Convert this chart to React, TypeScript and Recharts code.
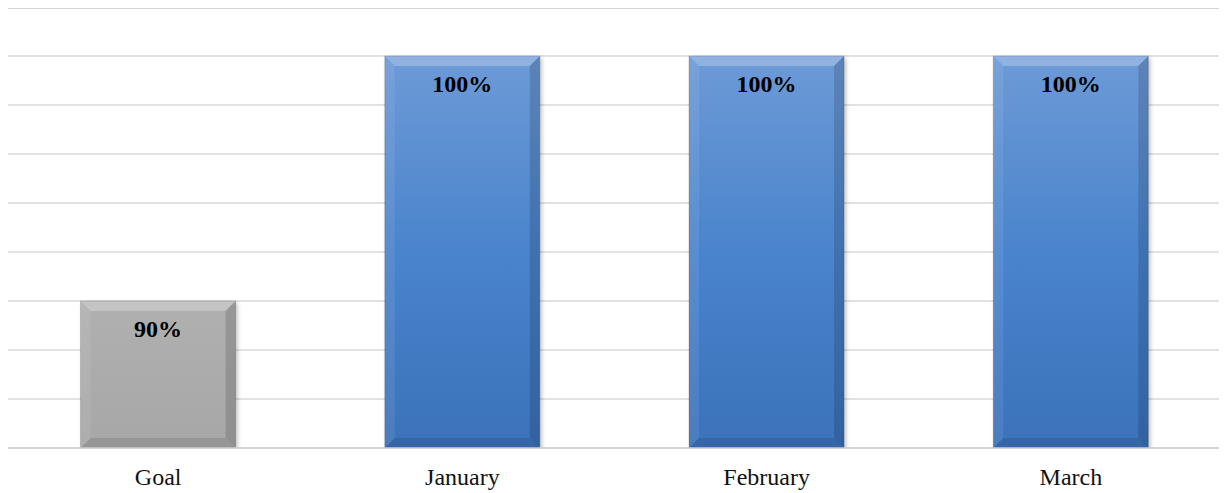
import React from "react";
import { BarChart, Bar, XAxis, YAxis, CartesianGrid, LabelList, ReferenceLine } from "recharts";

const months = ["Goal", "January", "February", "March"];
const rates = [90, 100, 100, 100];
const yTicks = [84, 86, 88, 90, 92, 94, 96, 98, 100, 102];

const data = months.map((m, i) => ({ name: m, value: rates[i] }));

// gradient ids per bar: first one is the grey goal bar
const FILLS = ["url(#gradGrey)", "url(#gradBlue)", "url(#gradBlue)", "url(#gradBlue)"];

const BevelBar = (props: any) => {
    const { x, y, width, height, index } = props;
    if (!height || height <= 0) return null;
    const b = 10;
    return (
        <g>
            <rect x={x + 2} y={y + 2} width={width} height={height} fill="#000" opacity={0.25} filter="url(#barShadow)" />
            <rect x={x} y={y} width={width} height={height} fill={FILLS[index % FILLS.length]} />
            {/* top bevel */}
            <polygon
                points={`${x},${y} ${x + width},${y} ${x + width - b},${y + b} ${x + b},${y + b}`}
                fill="#fff" opacity={0.25}
            />
            {/* left bevel */}
            <polygon
                points={`${x},${y} ${x + b},${y + b} ${x + b},${y + height - b} ${x},${y + height}`}
                fill="#fff" opacity={0.08}
            />
            {/* right bevel */}
            <polygon
                points={`${x + width},${y} ${x + width},${y + height} ${x + width - b},${y + height - b} ${x + width - b},${y + b}`}
                fill="#000" opacity={0.14}
            />
            {/* bottom bevel */}
            <polygon
                points={`${x},${y + height} ${x + width},${y + height} ${x + width - b},${y + height - b} ${x + b},${y + height - b}`}
                fill="#000" opacity={0.1}
            />
            <rect x={x} y={y} width={width} height={height} fill="none" stroke="#000" strokeOpacity={0.15} />
        </g>
    );
};

const ValueLabel = (props: any) => {
    const { x, y, width, value } = props;
    return (
        <text
            x={x + width / 2}
            y={y + 36}
            textAnchor="middle"
            fontFamily="'Liberation Serif', 'Times New Roman', serif"
            fontWeight="bold"
            fontSize={24}
            fill="#000"
        >
            {value}%
        </text>
    );
};

const MonthTick = (props: any) => {
    const { x, y, payload } = props;
    return (
        <text
            x={x}
            y={y}
            dy={29}
            textAnchor="middle"
            fontFamily="'Liberation Serif', 'Times New Roman', serif"
            fontSize={24}
            fill="#111"
        >
            {payload.value}
        </text>
    );
};

export default function App() {
    return (
        <div style={{ position: "relative", left: -8, top: -8, width: 1227, height: 493, background: "#fff" }}>
            <BarChart
                width={1227}
                height={493}
                data={data}
                margin={{ top: 7, right: 4, bottom: 15, left: 6 }}
                barCategoryGap="24.5%"
            >
                <defs>
                    <linearGradient id="gradBlue" x1="0" y1="0" x2="0" y2="1">
                        <stop offset="0%" stopColor="#6d9ad7" />
                        <stop offset="50%" stopColor="#4a84cc" />
                        <stop offset="100%" stopColor="#3b72ba" />
                    </linearGradient>
                    <linearGradient id="gradGrey" x1="0" y1="0" x2="0" y2="1">
                        <stop offset="0%" stopColor="#b0b0b0" />
                        <stop offset="100%" stopColor="#a7a7a7" />
                    </linearGradient>
                    <filter id="barShadow" x="-10%" y="-10%" width="120%" height="120%">
                        <feGaussianBlur stdDeviation="2" />
                    </filter>
                </defs>
                <CartesianGrid vertical={false} stroke="#d9d9d9" strokeWidth={1.5} />
                {/* top gridline sits on the plot edge and gets half clipped, so draw it thicker */}
                <ReferenceLine y={102} stroke="#d4d4d4" strokeWidth={4} ifOverflow="visible" />
                <XAxis
                    dataKey="name"
                    axisLine={{ stroke: "#d0d0d0", strokeWidth: 1.5 }}
                    tickLine={false}
                    tick={<MonthTick />}
                    height={30}
                    interval={0}
                />
                <YAxis hide domain={[84, 102]} ticks={yTicks} allowDataOverflow />
                <Bar dataKey="value" shape={<BevelBar />} isAnimationActive={false}>
                    <LabelList dataKey="value" content={<ValueLabel />} />
                </Bar>
            </BarChart>
        </div>
    );
}
